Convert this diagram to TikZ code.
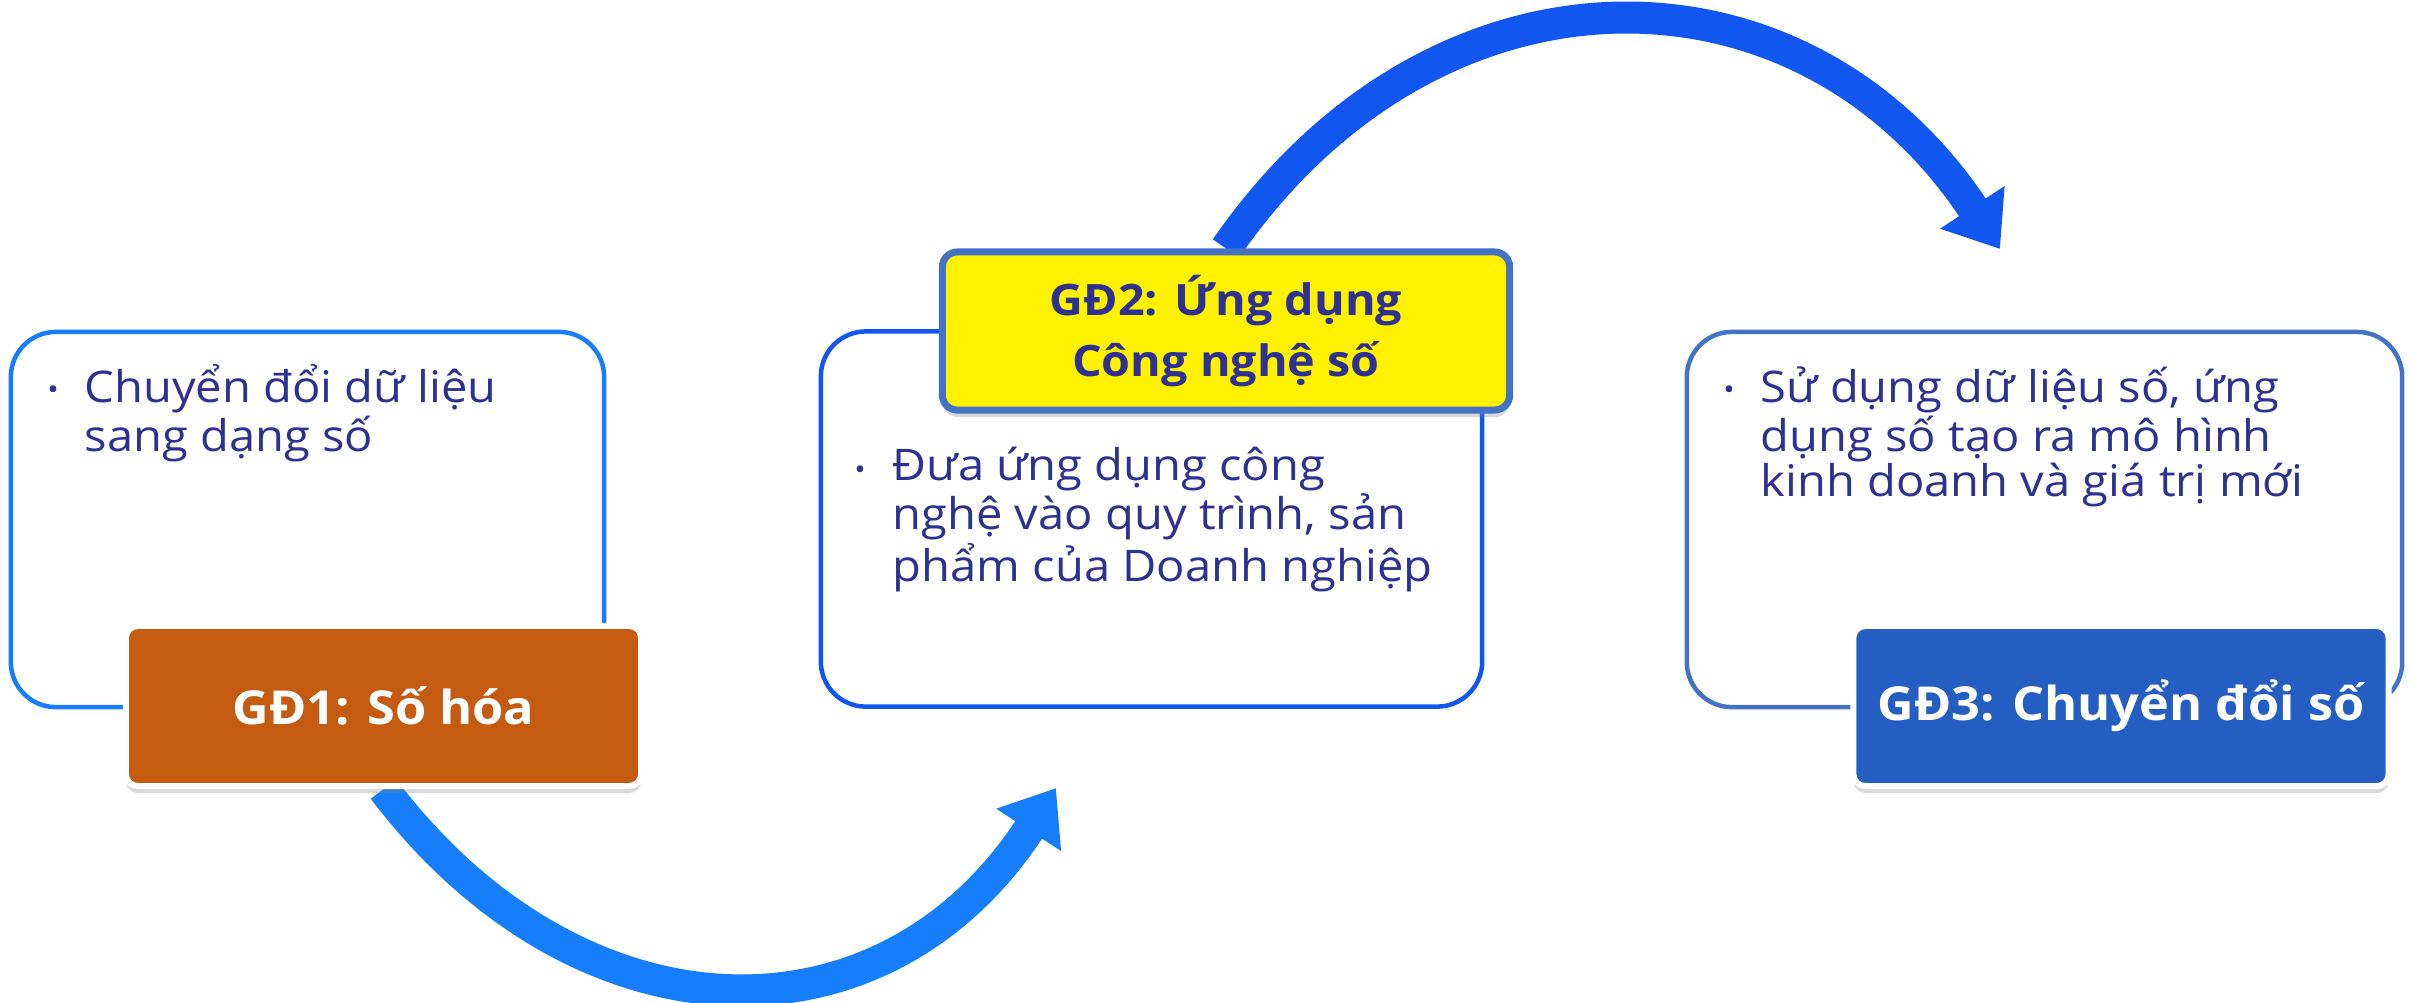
\documentclass[tikz,border=0pt]{standalone}
\usepackage{fontspec}
\setmainfont{Open Sans}[FakeStretch=1.08]
\usepackage{xcolor}
\usetikzlibrary{arrows.meta, shadows, backgrounds, positioning}

\definecolor{txtblue}{RGB}{46,49,146}
\definecolor{lineblue}{RGB}{22,126,250}
\definecolor{deepblue}{RGB}{18,86,240}
\definecolor{steelblue}{RGB}{68,114,196}
\definecolor{burnt}{RGB}{197,90,17}
\definecolor{gdblue}{RGB}{36,94,194}

\tikzset{
  stagebox/.style={draw, line width=0.045cm, rounded corners=0.45cm, fill=white, minimum height=3.75cm},
  tagbox/.style={draw=white, line width=0.06cm, rounded corners=0.12cm, minimum height=1.6cm,
    text=white, font=\bfseries\fontsize{13.3}{15}\selectfont,
    drop shadow={shadow xshift=0cm, shadow yshift=-0.07cm, opacity=0.3}},
  bodytext/.style={anchor=base west, inner sep=0pt, text=txtblue, font=\fontsize{12.4}{12.8}\selectfont},
  dot/.style={inner sep=0pt, text=txtblue, font=\fontsize{8}{8}\selectfont},
  flow/.style={line width=0.32cm, -{Triangle[length=0.5cm, width=0.74cm]}}
}

\begin{document}
\begin{tikzpicture}[x=0.01cm, y=-0.01cm]
\useasboundingbox (0,0) rectangle (2415,1002);

% the three stages
\node[stagebox, draw=lineblue, minimum width=5.93cm] (box1) at (307.5,519.5) {};
\node[stagebox, draw=deepblue, minimum width=6.61cm] (box2) at (1151.5,519) {};
\node[stagebox, draw=steelblue, minimum width=7.15cm] (box3) at (2044.5,519.5) {};

\node[dot] (d1) at (53,393) {\textbullet};
\node[bodytext] (t1) at (84,402) {\parbox[t]{5.2cm}{Chuyển đổi dữ liệu\\sang dạng số}};

\node[dot] (d2) at (860,473) {\textbullet};
\node[bodytext] (t2) at (892,480) {\parbox[t]{6cm}{Đưa ứng dụng công\\nghệ vào quy trình, sản\\phẩm của Doanh nghiệp}};

\node[dot] (d3) at (1729,393) {\textbullet};
\node[bodytext] (t3) at (1760,402) {\parbox[t]{6.4cm}{Sử dụng dữ liệu số, ứng\\dụng số tạo ra mô hình\\kinh doanh và giá trị mới}};

% stage titles
\node[tagbox, fill=burnt, minimum width=5.15cm] (gd1) at (383.5,706) {GĐ1: Số hóa};
\node[tagbox, fill=yellow, draw=steelblue, line width=0.07cm, rounded corners=0.15cm,
  minimum width=5.67cm, minimum height=1.58cm, text=txtblue, align=center,
  font=\bfseries\fontsize{12.3}{17.4}\selectfont] (gd2) at (1226,331) {GĐ2: Ứng dụng\\Công nghệ số};
\node[tagbox, fill=gdblue, minimum width=5.35cm] (gd3) at (2121,706) {GĐ3: Chuyển đổi số};

% curved arrows behind the boxes
\coordinate (tip1) at (1056,788);
\coordinate (tip2) at (2000,249);
\begin{pgfonlayer}{background}
\draw[flow, lineblue] (gd1.south) .. controls +(194,256) and +(-175,268) .. (tip1);
\draw[flow, deepblue] (gd2.north) .. controls +(209,-303) and +(-199,-300) .. (tip2);
\end{pgfonlayer}
\end{tikzpicture}
\end{document}
